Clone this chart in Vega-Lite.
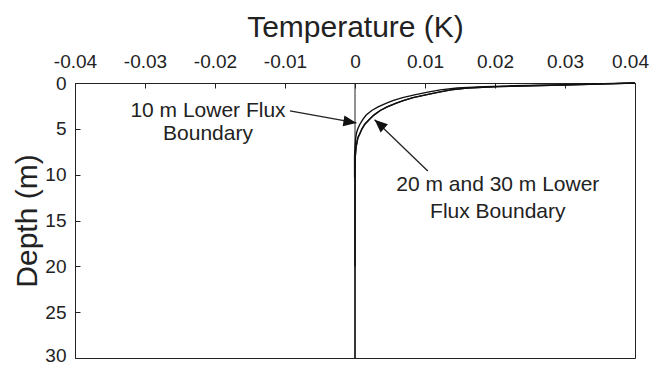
{
  "$schema": "https://vega.github.io/schema/vega-lite/v6.json",
  "width": 560,
  "height": 275,
  "autosize": {"type": "none"},
  "padding": {"left": 75, "top": 83, "right": 16, "bottom": 7},
  "background": "white",
  "config": {
    "font": "Liberation Sans",
    "view": {"stroke": "#222", "strokeWidth": 1},
    "axis": {
      "grid": false,
      "domainColor": "#222",
      "tickColor": "#222",
      "labelColor": "#222",
      "titleColor": "#222",
      "labelFont": "Liberation Sans",
      "titleFont": "Liberation Sans",
      "labelFontSize": 19,
      "titleFontSize": 30,
      "titleFontWeight": "normal",
      "tickSize": -5,
      "labelFlush": false,
      "labelOverlap": false
    }
  },
  "datasets": {
    "curves": [
      {"series": "20 m", "depth": 0, "T": 0.04},
      {"series": "20 m", "depth": 0.1, "T": 0.036},
      {"series": "20 m", "depth": 0.2, "T": 0.031},
      {"series": "20 m", "depth": 0.3, "T": 0.025},
      {"series": "20 m", "depth": 0.4, "T": 0.0205},
      {"series": "20 m", "depth": 0.55, "T": 0.016},
      {"series": "20 m", "depth": 0.75, "T": 0.0137},
      {"series": "20 m", "depth": 1.0, "T": 0.012},
      {"series": "20 m", "depth": 1.3, "T": 0.0101},
      {"series": "20 m", "depth": 1.6, "T": 0.0083},
      {"series": "20 m", "depth": 1.9, "T": 0.007},
      {"series": "20 m", "depth": 2.2, "T": 0.0059},
      {"series": "20 m", "depth": 2.6, "T": 0.0046},
      {"series": "20 m", "depth": 3.0, "T": 0.0036},
      {"series": "20 m", "depth": 3.5, "T": 0.0027},
      {"series": "20 m", "depth": 4.0, "T": 0.002},
      {"series": "20 m", "depth": 4.5, "T": 0.0014},
      {"series": "20 m", "depth": 5.0, "T": 0.001},
      {"series": "20 m", "depth": 5.5, "T": 0.0007},
      {"series": "20 m", "depth": 6.0, "T": 0.0004},
      {"series": "20 m", "depth": 7.0, "T": 0.00015},
      {"series": "20 m", "depth": 8.0, "T": 0.00004},
      {"series": "20 m", "depth": 10.0, "T": 0},
      {"series": "20 m", "depth": 20.0, "T": 0},
      {"series": "30 m", "depth": 0, "T": 0.04},
      {"series": "30 m", "depth": 0.1, "T": 0.036},
      {"series": "30 m", "depth": 0.2, "T": 0.031},
      {"series": "30 m", "depth": 0.3, "T": 0.025},
      {"series": "30 m", "depth": 0.4, "T": 0.0205},
      {"series": "30 m", "depth": 0.55, "T": 0.016},
      {"series": "30 m", "depth": 0.75, "T": 0.0137},
      {"series": "30 m", "depth": 1.0, "T": 0.012},
      {"series": "30 m", "depth": 1.3, "T": 0.0101},
      {"series": "30 m", "depth": 1.6, "T": 0.0083},
      {"series": "30 m", "depth": 1.9, "T": 0.007},
      {"series": "30 m", "depth": 2.2, "T": 0.0059},
      {"series": "30 m", "depth": 2.6, "T": 0.0046},
      {"series": "30 m", "depth": 3.0, "T": 0.0036},
      {"series": "30 m", "depth": 3.5, "T": 0.0027},
      {"series": "30 m", "depth": 4.0, "T": 0.002},
      {"series": "30 m", "depth": 4.5, "T": 0.0014},
      {"series": "30 m", "depth": 5.0, "T": 0.001},
      {"series": "30 m", "depth": 5.5, "T": 0.0007},
      {"series": "30 m", "depth": 6.0, "T": 0.0004},
      {"series": "30 m", "depth": 7.0, "T": 0.00015},
      {"series": "30 m", "depth": 8.0, "T": 0.00004},
      {"series": "30 m", "depth": 10.0, "T": 0},
      {"series": "30 m", "depth": 30.0, "T": 0},
      {"series": "10 m", "depth": 0, "T": 0.04},
      {"series": "10 m", "depth": 0.1, "T": 0.034},
      {"series": "10 m", "depth": 0.2, "T": 0.0285},
      {"series": "10 m", "depth": 0.3, "T": 0.0225},
      {"series": "10 m", "depth": 0.4, "T": 0.0185},
      {"series": "10 m", "depth": 0.55, "T": 0.0146},
      {"series": "10 m", "depth": 0.75, "T": 0.0122},
      {"series": "10 m", "depth": 1.0, "T": 0.0104},
      {"series": "10 m", "depth": 1.3, "T": 0.0085},
      {"series": "10 m", "depth": 1.6, "T": 0.0068},
      {"series": "10 m", "depth": 1.9, "T": 0.0055},
      {"series": "10 m", "depth": 2.2, "T": 0.0045},
      {"series": "10 m", "depth": 2.6, "T": 0.0033},
      {"series": "10 m", "depth": 3.0, "T": 0.0024},
      {"series": "10 m", "depth": 3.5, "T": 0.0016},
      {"series": "10 m", "depth": 4.0, "T": 0.0011},
      {"series": "10 m", "depth": 4.5, "T": 0.0007},
      {"series": "10 m", "depth": 5.0, "T": 0.0004},
      {"series": "10 m", "depth": 5.5, "T": 0.0002},
      {"series": "10 m", "depth": 6.0, "T": 0.0001},
      {"series": "10 m", "depth": 7.0, "T": 0},
      {"series": "10 m", "depth": 8.0, "T": -0.00006},
      {"series": "10 m", "depth": 10.3, "T": -0.00006}
    ],
    "zero": [{"T": 0, "depth": 0, "depth2": 30}],
    "labels": [
      {"T": -0.021, "depth": 3.0, "text": "10 m Lower Flux"},
      {"T": -0.021, "depth": 5.6, "text": "Boundary"},
      {"T": 0.0204, "depth": 11.1, "text": "20 m and 30 m Lower"},
      {"T": 0.0204, "depth": 14.05, "text": "Flux Boundary"}
    ],
    "arrows": [
      {"id": "a", "T": -0.0093, "depth": 3.05, "T2": 0.0002, "depth2": 4.36},
      {"id": "b", "T": 0.0104, "depth": 9.6, "T2": 0.0028, "depth2": 4.0}
    ],
    "heads": [
      {"id": "a", "T": 0.0002, "depth": 4.36},
      {"id": "b", "T": 0.0028, "depth": 4.0}
    ]
  },
  "layer": [
    {
      "data": {"name": "zero"},
      "mark": {"type": "rule", "color": "#222", "strokeWidth": 1},
      "encoding": {
        "x": {
          "field": "T", "type": "quantitative", "title": "Temperature (K)",
          "scale": {"domain": [-0.04, 0.04], "nice": false, "zero": false},
          "axis": {
            "orient": "top",
            "values": [-0.04, -0.035, -0.03, -0.025, -0.02, -0.015, -0.01, -0.005, 0, 0.005, 0.01, 0.015, 0.02, 0.025, 0.03, 0.035, 0.04],
            "labelExpr": "round(datum.value*200) % 2 == 0 ? toString(datum.value) : ''",
            "labelOffset": {"condition": {"test": "datum.value >= 0.039", "value": -5}, "value": 0},
            "labelPadding": 17,
            "titlePadding": 10
          }
        },
        "y": {
          "field": "depth", "type": "quantitative", "title": "Depth (m)",
          "scale": {"domain": [0, 30], "reverse": true, "nice": false, "zero": false},
          "axis": {
            "values": [0, 5, 10, 15, 20, 25, 30],
            "labelOffset": {"condition": {"test": "datum.value >= 29", "value": -3}, "value": 0},
            "labelPadding": 14,
            "titlePadding": 2
          }
        },
        "y2": {"field": "depth2"}
      }
    },
    {
      "data": {"name": "curves"},
      "mark": {"type": "line", "color": "#111", "strokeWidth": 1.4},
      "encoding": {
        "x": {"field": "T", "type": "quantitative", "title": "Temperature (K)", "scale": {"domain": [-0.04, 0.04], "nice": false, "zero": false}},
        "y": {"field": "depth", "type": "quantitative", "title": "Depth (m)", "scale": {"domain": [0, 30], "reverse": true, "nice": false, "zero": false}},
        "detail": {"field": "series"},
        "order": {"field": "depth", "type": "quantitative"}
      }
    },
    {
      "data": {"name": "arrows"},
      "mark": {"type": "rule", "color": "#222", "strokeWidth": 1.3},
      "encoding": {
        "x": {"field": "T", "type": "quantitative", "title": "Temperature (K)", "scale": {"domain": [-0.04, 0.04], "nice": false, "zero": false}},
        "y": {"field": "depth", "type": "quantitative", "title": "Depth (m)", "scale": {"domain": [0, 30], "reverse": true, "nice": false, "zero": false}},
        "x2": {"field": "T2"},
        "y2": {"field": "depth2"}
      }
    },
    {
      "data": {"name": "heads"},
      "transform": [{"filter": "datum.id == 'a'"}],
      "mark": {"type": "point", "shape": "M0,0 L-0.42,1 L0.42,1 Z", "filled": true, "color": "#111", "opacity": 1, "size": 676, "angle": 99, "strokeWidth": 0},
      "encoding": {
        "x": {"field": "T", "type": "quantitative", "title": "Temperature (K)", "scale": {"domain": [-0.04, 0.04], "nice": false, "zero": false}},
        "y": {"field": "depth", "type": "quantitative", "title": "Depth (m)", "scale": {"domain": [0, 30], "reverse": true, "nice": false, "zero": false}}
      }
    },
    {
      "data": {"name": "heads"},
      "transform": [{"filter": "datum.id == 'b'"}],
      "mark": {"type": "point", "shape": "M0,0 L-0.42,1 L0.42,1 Z", "filled": true, "color": "#111", "opacity": 1, "size": 676, "angle": 312, "strokeWidth": 0},
      "encoding": {
        "x": {"field": "T", "type": "quantitative", "title": "Temperature (K)", "scale": {"domain": [-0.04, 0.04], "nice": false, "zero": false}},
        "y": {"field": "depth", "type": "quantitative", "title": "Depth (m)", "scale": {"domain": [0, 30], "reverse": true, "nice": false, "zero": false}}
      }
    },
    {
      "data": {"name": "labels"},
      "mark": {"type": "text", "font": "Liberation Sans", "fontSize": 21, "color": "#222", "align": "center", "baseline": "middle"},
      "encoding": {
        "x": {"field": "T", "type": "quantitative", "title": "Temperature (K)", "scale": {"domain": [-0.04, 0.04], "nice": false, "zero": false}},
        "y": {"field": "depth", "type": "quantitative", "title": "Depth (m)", "scale": {"domain": [0, 30], "reverse": true, "nice": false, "zero": false}},
        "text": {"field": "text"}
      }
    }
  ]
}
